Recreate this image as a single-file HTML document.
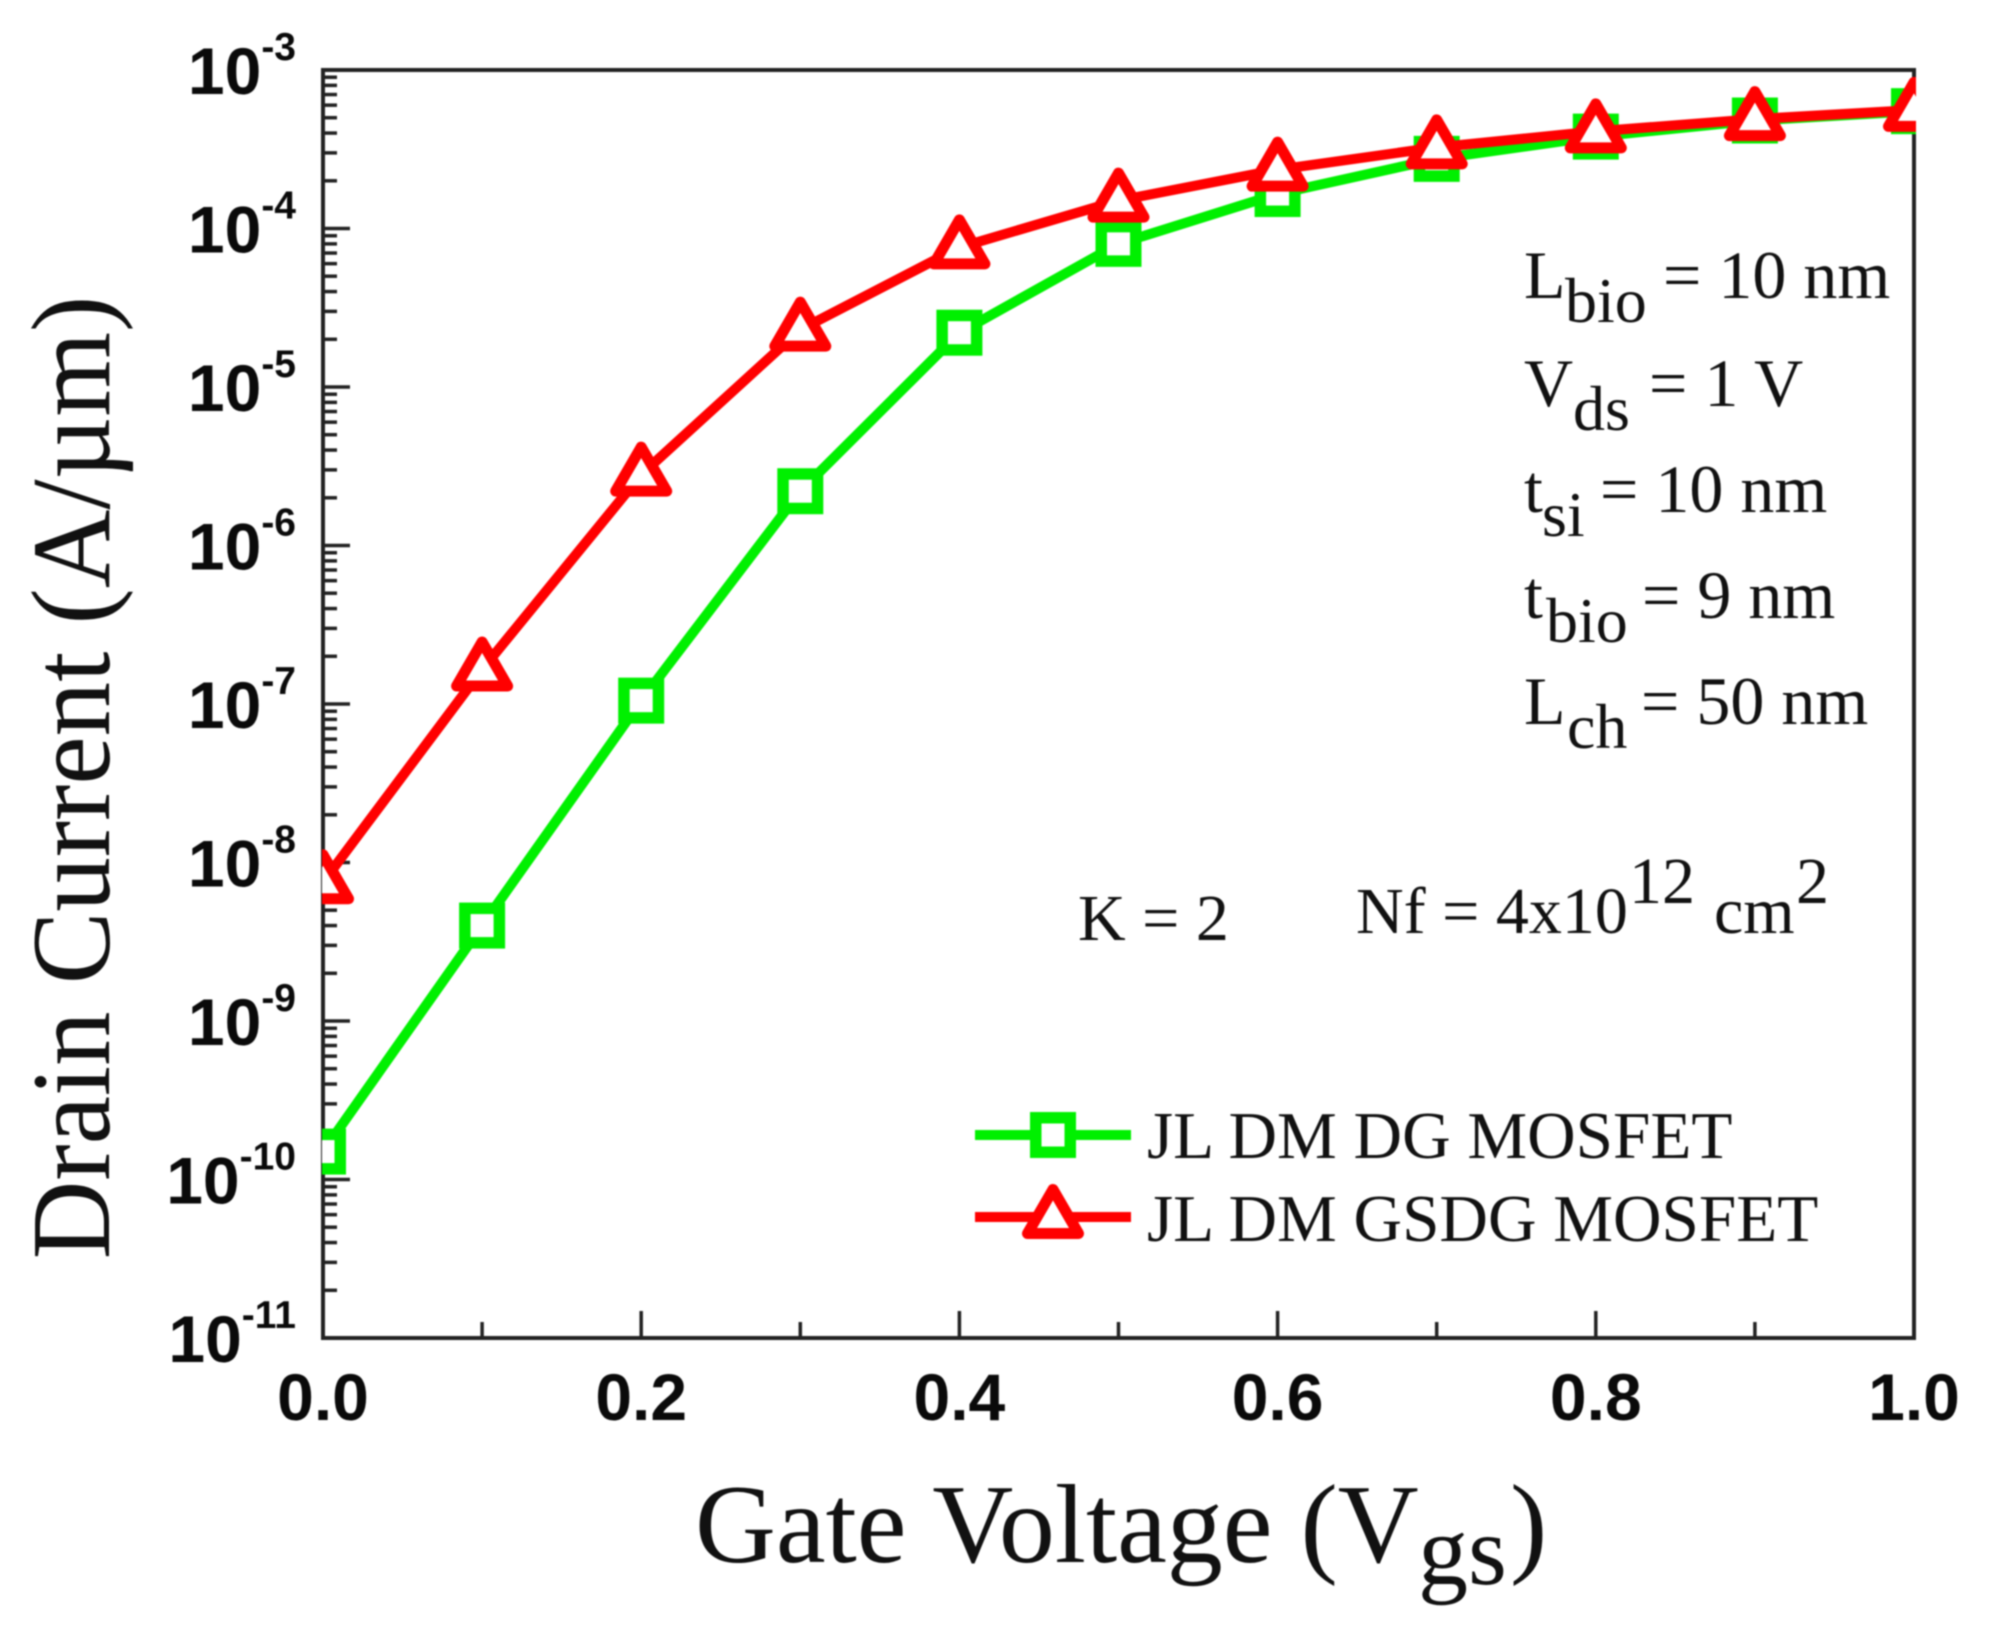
<!DOCTYPE html>
<html>
<head>
<meta charset="utf-8">
<title>Drain Current vs Gate Voltage</title>
<style>
html,body{margin:0;padding:0;background:#fff;width:1992px;height:1628px;overflow:hidden}
svg{display:block;filter:blur(0.9px)}
.serif{font-family:"Liberation Serif",serif;fill:#111}
.sans{font-family:"Liberation Sans",sans-serif;font-weight:bold;fill:#0a0a0a}
</style>
</head>
<body>
<svg id="chart" width="1992" height="1628" viewBox="0 0 1992 1628" xmlns="http://www.w3.org/2000/svg">
<defs><clipPath id="plot-clip"><rect x="322" y="68" width="1594" height="1272"></rect></clipPath></defs>
<rect x="323" y="70" width="1591" height="1268" fill="#fff" stroke="#222" stroke-width="4"></rect>
<g id="ticks"></g>
<g id="tick-labels"></g>
<g id="series" clip-path="url(#plot-clip)"></g>

<text class="serif" transform="translate(109,777.5) rotate(-90) scale(0.972,1)" text-anchor="middle" font-size="112">Drain Current (A/µm)</text>
<text class="serif" font-size="112" y="1562"><tspan x="695">Gate Voltage (V</tspan><tspan x="1418" dy="22" font-size="100">gs</tspan><tspan x="1510" dy="-22">)</tspan></text>

<g id="annotations" font-size="68">
<text class="serif" y="298"><tspan x="1524">L</tspan><tspan x="1565" dy="24" font-size="64">bio</tspan><tspan x="1663" dy="-24">= 10 nm</tspan></text>
<text class="serif" y="406"><tspan x="1524">V</tspan><tspan x="1573" dy="24" font-size="64">ds</tspan><tspan x="1649" dy="-24">= 1 V</tspan></text>
<text class="serif" y="512"><tspan x="1524">t</tspan><tspan x="1542" dy="24" font-size="64">si</tspan><tspan x="1600" dy="-24">= 10 nm</tspan></text>
<text class="serif" y="618"><tspan x="1524">t</tspan><tspan x="1546" dy="24" font-size="64">bio</tspan><tspan x="1642" dy="-24">= 9 nm</tspan></text>
<text class="serif" y="724"><tspan x="1524">L</tspan><tspan x="1567" dy="24" font-size="64">ch</tspan><tspan x="1641" dy="-24">= 50 nm</tspan></text>
<text class="serif" x="1078" y="940" font-size="66">K = 2</text>
<text class="serif" y="933" font-size="66"><tspan x="1356">Nf = 4x10</tspan><tspan x="1629" dy="-30">12</tspan><tspan x="1714" dy="30">cm</tspan><tspan x="1796" dy="-30">2</tspan></text>
</g>

<g id="legend"></g>
<text class="serif" x="1147" y="1158" font-size="67.2">JL DM DG MOSFET</text>
<text class="serif" x="1147" y="1241" font-size="67.2">JL DM GSDG MOSFET</text>
</svg>
<script>
var xValues = [0.0, 0.1, 0.2, 0.3, 0.4, 0.5, 0.6, 0.7, 0.8, 0.9, 1.0];
var greenValues = [1.5e-10, 4e-9, 1.05e-7, 2.2e-6, 2.2e-5, 8e-5, 1.65e-4, 2.75e-4, 3.8e-4, 4.8e-4, 5.5e-4];
var redValues = [7.5e-9, 1.65e-7, 2.8e-6, 2.3e-5, 7.6e-5, 1.5e-4, 2.35e-4, 3.25e-4, 4.1e-4, 4.9e-4, 5.6e-4];
var xTickLabels = ["0.0", "0.2", "0.4", "0.6", "0.8", "1.0"];
var xMinorTicks = [0.1, 0.3, 0.5, 0.7, 0.9];
var yExponents = [-3, -4, -5, -6, -7, -8, -9, -10, -11];

var NS = "http://www.w3.org/2000/svg";
var PLOT = {left: 323, right: 1914, top: 70, bottom: 1338};
function xScale(v) { return PLOT.left + v * (PLOT.right - PLOT.left); }
function yScale(v) { return PLOT.top + (-3 - Math.log10(v)) / 8 * (PLOT.bottom - PLOT.top); }
function make(tag, attrs, parent) {
  var el = document.createElementNS(NS, tag);
  for (var k in attrs) { el.setAttribute(k, attrs[k]); }
  parent.appendChild(el);
  return el;
}
var ticks = document.getElementById("ticks");
var labels = document.getElementById("tick-labels");
var seriesG = document.getElementById("series");
var legend = document.getElementById("legend");

xTickLabels.forEach(function (t) {
  var x = xScale(parseFloat(t));
  var tick = make("line", {x1: x, x2: x, y1: PLOT.bottom, y2: PLOT.bottom - 27, stroke: "#222", "stroke-width": 3.5}, ticks);
  
  
  var label = make("text", {x: x, y: 1420, "text-anchor": "middle", "font-size": 66, "class": "sans"}, labels);
  label.textContent = t;
  
  
});
xMinorTicks.forEach(function (v) {
  var x = xScale(v);
  var tick = make("line", {x1: x, x2: x, y1: PLOT.bottom, y2: PLOT.bottom - 16, stroke: "#222", "stroke-width": 3.5}, ticks);
  
  
});
yExponents.forEach(function (e) {
  var y = yScale(Math.pow(10, e));
  var tick = make("line", {x1: PLOT.left, x2: PLOT.left + 27, y1: y, y2: y, stroke: "#222", "stroke-width": 3.5}, ticks);
  
  
  if (e > -11) {
    for (var m = 2; m < 10; m++) {
      var my = yScale(m * Math.pow(10, e - 1));
      var minor = make("line", {x1: PLOT.left, x2: PLOT.left + 14, y1: my, y2: my, stroke: "#222", "stroke-width": 3.5}, ticks);
      
      
    }
  }
  var label = make("text", {x: 296, y: y + 24, "text-anchor": "end", "font-size": 66, "class": "sans"}, labels);
  
  
  var base = make("tspan", {}, label);
  base.textContent = "10";
  var exp = make("tspan", {dy: -34, "font-size": 39}, label);
  exp.textContent = String(e);
});

function squareAt(parent, cx, cy) {
  return make("rect", {x: cx - 17.25, y: cy - 17.25, width: 34.5, height: 34.5, fill: "#fff", stroke: "#00f000", "stroke-width": 11.5}, parent);
}
function triangleAt(parent, cx, cy) {
  var pts = [[cx, cy - 27.5], [cx + 25.5, cy + 16.5], [cx - 25.5, cy + 16.5]].join(" ");
  return make("polygon", {points: pts, fill: "#fff", stroke: "#ff0000", "stroke-width": 11, "stroke-linejoin": "round"}, parent);
}
function drawSeries(values, color, markerFn, name) {
  var pts = xValues.map(function (v, i) { return xScale(v) + "," + yScale(values[i]); }).join(" ");
  var line = make("polyline", {points: pts, fill: "none", stroke: color, "stroke-width": 10, "stroke-linejoin": "round"}, seriesG);
  
  
  values.forEach(function (val, i) {
    var mk = markerFn(seriesG, xScale(xValues[i]), yScale(val));
    
    
  });
}
drawSeries(greenValues, "#00f000", squareAt, "jl-dm-dg-series");
drawSeries(redValues, "#ff0000", triangleAt, "jl-dm-gsdg-series");

var legendLineG = make("line", {x1: 975, x2: 1131, y1: 1135, y2: 1135, stroke: "#00f000", "stroke-width": 10}, legend);


var legendMarkG = squareAt(legend, 1053, 1135);


var legendLineR = make("line", {x1: 975, x2: 1131, y1: 1217, y2: 1217, stroke: "#ff0000", "stroke-width": 10}, legend);


var legendMarkR = triangleAt(legend, 1053, 1217);


</script>
</body>
</html>
